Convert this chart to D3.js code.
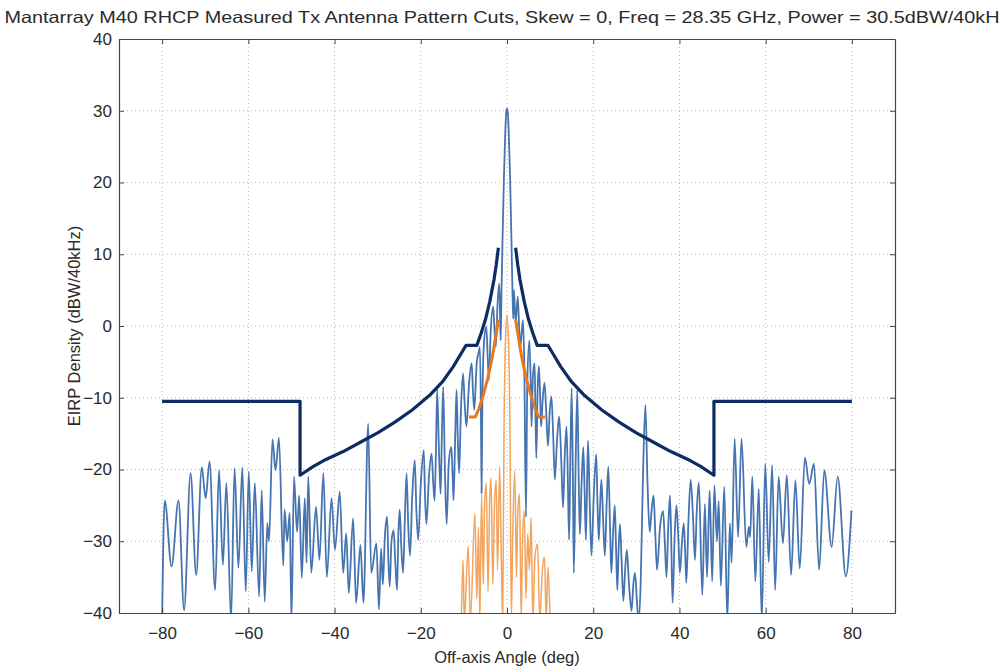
<!DOCTYPE html>
<html>
<head>
<meta charset="utf-8">
<script src="https://cdn.jsdelivr.net/npm/d3@7"></script>
<style>
  body { margin: 0; background: #fff; }
  svg text { font-family: "Liberation Sans", Arial, Helvetica, sans-serif; fill: #2a2a2a; }
  .axis path, .axis line { stroke: #444; }
  .grid line { stroke: #b4b4b4; stroke-dasharray: 1,3; }
</style>
</head>
<body>
<div id="chart-div"></div>
<script>
// Constants for the chart
const CHART_WIDTH = 1000;
const CHART_HEIGHT = 668;
const MARGIN = { left: 119, right: 105, top: 39, bottom: 55 };

const TITLE = "Mantarray M40 RHCP Measured Tx Antenna Pattern Cuts, Skew = 0, Freq = 28.35 GHz, Power = 30.5dBW/40kHz";
const X_LABEL = "Off-axis Angle (deg)";
const Y_LABEL = "EIRP Density (dBW/40kHz)";

const X_DOMAIN = [-90, 90];
const Y_DOMAIN = [-40, 40];
const X_TICKS = [-80, -60, -40, -20, 0, 20, 40, 60, 80];
const Y_TICKS = [-40, -30, -20, -10, 0, 10, 20, 30, 40];

// measured co-pol cut [angle deg, EIRP density]
const copolCut = [
  [-80.0, -41], [-79.4, -24.3], [-77.8, -33.5], [-76.2, -24.3], [-74.9, -39.6], [-73.4, -20.5],
  [-72.1, -34.7], [-70.8, -19.7], [-69.9, -24.0], [-69.0, -18.9], [-67.7, -36.8], [-66.8, -20.1],
  [-65.9, -33.3], [-65.1, -21.9], [-64.0, -41], [-63.2, -19.8], [-62.3, -33.7], [-61.4, -19.7],
  [-60.6, -37.0], [-59.9, -20.3], [-59.2, -34.2], [-58.5, -21.9], [-57.5, -37.7], [-56.9, -22.9],
  [-56.2, -38.4], [-55.6, -27.5], [-55.2, -30], [-54.4, -15.8], [-53.7, -20.1], [-52.9, -15.6],
  [-51.9, -33.4], [-51.6, -25.6], [-51.0, -30], [-50.4, -26], [-50.0, -41], [-49.4, -21.0],
  [-48.7, -28.7], [-48.2, -23.6], [-47.6, -35.1], [-46.9, -24], [-46.5, -33], [-46.1, -21.0],
  [-45.4, -34.4], [-44.3, -25.2], [-43.5, -32.6], [-42.6, -20.5], [-41.8, -35], [-40.7, -24.0],
  [-39.9, -31.2], [-38.8, -23.1], [-38.0, -34.4], [-37.3, -28.9], [-36.7, -37.2], [-35.7, -26.8],
  [-35.0, -38.6], [-34.0, -30.5], [-33.3, -38.6], [-32.2, -13.6], [-31.5, -34.4], [-30.3, -30.3],
  [-29.7, -39.5], [-29.2, -31], [-28.8, -36], [-28.3, -29], [-27.8, -26.6], [-27.5, -33],
  [-27.2, -36.3], [-26.8, -30], [-26.3, -28.5], [-25.9, -33], [-25.5, -36.8], [-25.2, -29],
  [-24.9, -25.6], [-24.5, -31], [-24.1, -34.4], [-23.7, -27], [-23.3, -20.5], [-22.9, -28],
  [-22.5, -32], [-22.0, -24], [-21.4, -18.7], [-21.0, -26], [-20.6, -29.8], [-20.0, -22],
  [-19.3, -17.3], [-19.0, -24], [-18.7, -27.6], [-18.1, -21], [-17.5, -17.8], [-17.1, -22],
  [-16.8, -24.3], [-16.5, -18], [-16.2, -8.9], [-15.8, -17], [-15.4, -23.4], [-15.1, -15],
  [-14.8, -8.5], [-14.4, -20], [-14.0, -27.6], [-13.5, -19], [-12.9, -16.9], [-12.6, -21],
  [-12.4, -24.3], [-12.0, -15], [-11.7, -8.9], [-11.4, -16], [-11.1, -20.5], [-10.7, -12],
  [-10.2, -6.6], [-9.8, -11], [-9.4, -14], [-8.8, -8], [-8.2, -5.2], [-7.9, -9],
  [-7.6, -11.7], [-7.0, -5], [-6.5, -3.5], [-6.3, -2.9], [-6.05, -12], [-5.9, -23.3],
  [-5.7, -10], [-5.3, -2], [-4.8, -0.1], [-4.5, -4], [-4.2, -7.5], [-3.8, -1],
  [-3.2, 2.7], [-2.9, -0.5], [-2.6, -2.9], [-2.2, 3], [-1.8, 5.9], [-1.6, 1],
  [-1.45, -2], [-1.3, 4], [-1.0, 13], [-0.7, 21], [-0.4, 27], [-0.15, 30],
  [0, 30.3], [0.15, 30], [0.4, 27], [0.7, 21], [1.0, 13], [1.3, 4],
  [1.45, 1], [1.6, 5.0], [2.0, 0.6], [2.5, 4.1], [2.8, 0], [3.1, -2.9],
  [3.4, -1], [3.7, 0.8], [4.0, -5], [4.4, -26.6], [4.7, -8], [5.2, -2],
  [5.5, -8], [5.7, -14], [6.0, -7], [6.4, -5.2], [6.6, -12], [6.8, -18.4],
  [7.1, -9], [7.4, -5.6], [7.7, -10], [7.9, -14], [8.3, -10], [8.7, -7.9],
  [9.1, -12], [9.5, -16.7], [9.9, -12], [10.3, -9.8], [10.7, -15], [11.1, -21.4],
  [11.6, -16], [12.1, -12.6], [12.6, -19], [13.0, -25.3], [13.4, -18], [13.8, -14],
  [14.1, -21], [14.4, -29.8], [14.7, -18], [15.0, -8.7], [15.3, -22], [15.5, -34.4],
  [15.9, -20], [16.3, -8.9], [16.6, -20], [16.9, -29], [17.3, -22], [17.7, -16.9],
  [18.0, -23], [18.3, -29.8], [18.6, -21], [18.8, -16], [19.2, -25], [19.6, -32],
  [20.1, -24], [20.7, -17.9], [21.0, -25], [21.3, -29.8], [21.6, -25], [21.9, -21.4],
  [22.3, -27], [22.7, -32], [23.1, -25], [23.5, -19.6], [23.9, -28], [24.2, -34.4],
  [24.6, -29], [25.0, -25], [25.3, -31], [25.6, -36.8], [25.9, -31], [26.2, -27.6],
  [26.6, -33], [27.0, -38.3], [27.4, -34], [27.8, -31.2], [28.3, -36], [28.9, -39.7],
  [29.3, -36], [29.7, -34.4], [30.1, -38], [30.5, -41], [31.0, -36], [31.5, -22],
  [32.1, -11.0], [32.6, -22], [33.1, -28.7], [33.5, -26], [34.0, -23.6], [34.4, -29],
  [34.8, -34], [35.5, -28], [36.2, -25.8], [36.6, -30], [37.0, -35], [37.4, -28],
  [37.8, -23.6], [38.1, -30], [38.4, -38.6], [38.9, -29], [39.3, -25], [39.7, -29],
  [40.1, -34.4], [40.6, -30], [41.0, -27.5], [41.3, -31], [41.6, -35.8], [42.1, -27],
  [42.6, -21.4], [43.1, -26], [43.6, -32.6], [44.0, -26], [44.5, -21.8], [45.3, -37.5],
  [45.9, -24.8], [46.4, -35], [47.0, -22.9], [47.6, -35.6], [48.1, -22.2], [48.7, -30],
  [49.1, -24.4], [49.6, -36.2], [50.4, -22.4], [51.1, -41], [51.7, -27.5], [52.1, -33],
  [52.8, -15.7], [53.6, -29.4], [54.4, -15.7], [55.5, -30.8], [56.1, -28], [56.4, -29.4],
  [56.9, -21], [57.6, -35.6], [58.4, -22.7], [59.1, -41], [59.9, -19.2], [60.7, -32.9],
  [61.5, -19.4], [62.2, -36.8], [63.0, -21], [64.0, -30.3], [64.9, -20.8], [65.9, -34.7],
  [66.9, -21.5], [67.9, -33.8], [69.1, -18.3], [70.1, -22], [71.2, -19.2], [72.4, -34],
  [73.6, -20.1], [75.3, -30.8], [76.7, -21], [78.6, -34.9], [79.9, -25.7]
];

// measured cut near boresight (orange, thin)
const xpolCut = [
  [-10.6, -41], [-10.2, -32.6], [-9.9, -41], [-9.0, -30.7], [-8.5, -41], [-7.45, -26.1],
  [-7.0, -38], [-6.6, -28], [-6.3, -41], [-5.9, -23.5], [-5.5, -36], [-5.2, -25],
  [-4.8, -21.9], [-4.4, -37], [-4.0, -24], [-3.7, -21.2], [-3.3, -36], [-2.9, -25],
  [-2.5, -21.5], [-2.2, -34], [-1.7, -19.6], [-1.3, -33], [-1.0, -41], [-0.7, -15],
  [-0.35, -2], [0, 1.5], [0.35, -2], [0.7, -15], [1.0, -41], [1.3, -30],
  [1.8, -20.1], [2.2, -35], [2.5, -26], [2.9, -23.4], [3.3, -41], [3.6, -30],
  [4.0, -25.7], [4.4, -38], [4.8, -29], [5.2, -34], [5.6, -26.7], [6.0, -41],
  [6.5, -32], [7.1, -30.4], [7.6, -41], [8.2, -34], [8.7, -32.2], [9.1, -41],
  [9.5, -33.6], [10.0, -41]
];

// regulatory mask, left and right branches (navy)
const maskLeft = [
  [-80, -10.5], [-48, -10.5], [-48, -20.8], [-45, -19.6], [-42, -18.6], [-38, -17.5],
  [-34, -16.2], [-30, -14.9], [-26, -13.4], [-22, -11.7], [-18, -9.7], [-15, -7.8],
  [-12.5, -5.7], [-10.5, -3.7], [-9.5, -2.7], [-7.0, -2.7], [-6.0, -1.0], [-5.0, 0.9],
  [-4.0, 3.4], [-3.0, 6.5], [-2.5, 8.5], [-2.0, 10.9]
];
const maskRight = [
  [2.0, 10.9], [2.5, 8.5], [3.0, 6.5], [4.0, 3.4], [5.0, 0.9], [6.0, -1.0],
  [7.0, -2.7], [9.5, -2.7], [10.5, -3.7], [12.5, -5.7], [15, -7.8], [18, -9.7],
  [22, -11.7], [26, -13.4], [30, -14.9], [34, -16.2], [38, -17.5], [42, -18.6],
  [45, -19.6], [48, -20.8], [48, -10.5], [80, -10.5]
];

// inner mask (orange, thick)
const innerMaskLeft = [
  [-8.8, -12.7], [-7.4, -12.7], [-6.5, -11.5], [-5.5, -9.6], [-4.5, -7.4], [-3.5, -4.6],
  [-3.0, -2.9], [-2.5, -1.0], [-2.0, 0.9]
];
const innerMaskRight = [
  [2.0, 0.9], [2.5, -1.0], [3.0, -2.9], [3.5, -4.6], [4.5, -7.4], [5.5, -9.6],
  [6.5, -11.5], [7.4, -12.7], [8.8, -12.7]
];

setup();

function setup() {
  let svg = d3
    .select("#chart-div")
    .append("svg")
    .attr("width", CHART_WIDTH)
    .attr("height", CHART_HEIGHT)
    .style("background", "#fff");

  let xScale = d3
    .scaleLinear()
    .domain(X_DOMAIN)
    .range([MARGIN.left, CHART_WIDTH - MARGIN.right]);
  let yScale = d3
    .scaleLinear()
    .domain(Y_DOMAIN)
    .range([CHART_HEIGHT - MARGIN.bottom, MARGIN.top]);

  let plotW = CHART_WIDTH - MARGIN.left - MARGIN.right;
  let plotH = CHART_HEIGHT - MARGIN.top - MARGIN.bottom;

  svg.append("clipPath")
    .attr("id", "plot-clip")
    .append("rect")
    .attr("x", MARGIN.left)
    .attr("y", MARGIN.top)
    .attr("width", plotW)
    .attr("height", plotH);

  // dotted grid
  let grid = svg.append("g").attr("class", "grid");
  grid.selectAll("line.gx")
    .data(X_TICKS)
    .join("line")
    .attr("class", "gx")
    .attr("x1", d => xScale(d))
    .attr("x2", d => xScale(d))
    .attr("y1", MARGIN.top)
    .attr("y2", CHART_HEIGHT - MARGIN.bottom);
  grid.selectAll("line.gy")
    .data(Y_TICKS.filter(d => d > Y_DOMAIN[0] && d < Y_DOMAIN[1]))
    .join("line")
    .attr("class", "gy")
    .attr("x1", MARGIN.left)
    .attr("x2", CHART_WIDTH - MARGIN.right)
    .attr("y1", d => yScale(d))
    .attr("y2", d => yScale(d));

  // curves
  const line = d3.line()
    .x(d => xScale(d[0]))
    .y(d => yScale(d[1]));
  const smooth = d3.line()
    .x(d => xScale(d[0]))
    .y(d => yScale(d[1]))
    .curve(d3.curveMonotoneX);

  let plot = svg.append("g").attr("clip-path", "url(#plot-clip)");

  plot.append("path")
    .datum(copolCut)
    .attr("d", smooth)
    .attr("fill", "none")
    .attr("stroke", "#4574b0")
    .attr("stroke-width", 1.8)
    .attr("stroke-linejoin", "round");

  plot.append("path")
    .datum(xpolCut)
    .attr("d", smooth)
    .attr("fill", "none")
    .attr("stroke", "#f2a35c")
    .attr("stroke-width", 1.5);

  plot.selectAll("path.mask")
    .data([maskLeft, maskRight])
    .join("path")
    .attr("class", "mask")
    .attr("d", line)
    .attr("fill", "none")
    .attr("stroke", "#0c2c62")
    .attr("stroke-width", 3.2)
    .attr("stroke-linejoin", "round");

  plot.selectAll("path.inner-mask")
    .data([innerMaskLeft, innerMaskRight])
    .join("path")
    .attr("class", "inner-mask")
    .attr("d", line)
    .attr("fill", "none")
    .attr("stroke", "#e8781c")
    .attr("stroke-width", 3)
    .attr("stroke-linejoin", "round");

  // axes, ticks pointing inward like the original
  let xAxis = d3.axisBottom(xScale).tickValues(X_TICKS).tickSizeInner(-5).tickSizeOuter(0).tickPadding(14)
    .tickFormat(d => d3.format("d")(d).replace("-", "\u2212"));
  let yAxis = d3.axisLeft(yScale).tickValues(Y_TICKS).tickSizeInner(-5).tickSizeOuter(0).tickPadding(7)
    .tickFormat(d => d3.format("d")(d).replace("-", "\u2212"));

  svg.append("g")
    .attr("class", "axis x-axis")
    .attr("transform", "translate(0," + (CHART_HEIGHT - MARGIN.bottom) + ")")
    .call(xAxis);
  svg.append("g")
    .attr("class", "axis y-axis")
    .attr("transform", "translate(" + MARGIN.left + ",0)")
    .call(yAxis);
  svg.append("g")
    .attr("class", "axis")
    .attr("transform", "translate(0," + MARGIN.top + ")")
    .call(d3.axisTop(xScale).tickValues(X_TICKS).tickSizeInner(-5).tickSizeOuter(0).tickFormat(""));
  svg.append("g")
    .attr("class", "axis")
    .attr("transform", "translate(" + (CHART_WIDTH - MARGIN.right) + ",0)")
    .call(d3.axisRight(yScale).tickValues(Y_TICKS).tickSizeInner(-5).tickSizeOuter(0).tickFormat(""));

  svg.selectAll(".axis text")
    .style("font-size", "17px")
    .style("fill", "#2a2a2a");
  svg.selectAll(".axis path.domain").attr("stroke-width", 1.2);

  // texts
  svg.append("text")
    .attr("x", MARGIN.left + plotW / 2)
    .attr("y", 23)
    .attr("text-anchor", "middle")
    .attr("textLength", 1005)
    .attr("lengthAdjust", "spacingAndGlyphs")
    .style("font-size", "16.5px")
    .text(TITLE);

  svg.append("text")
    .attr("x", MARGIN.left + plotW / 2)
    .attr("y", 663)
    .attr("text-anchor", "middle")
    .style("font-size", "16.5px")
    .text(X_LABEL);

  svg.append("text")
    .attr("transform", "translate(80," + (MARGIN.top + plotH / 2) + ") rotate(-90)")
    .attr("text-anchor", "middle")
    .style("font-size", "16.5px")
    .text(Y_LABEL);
}
</script>
</body>
</html>
